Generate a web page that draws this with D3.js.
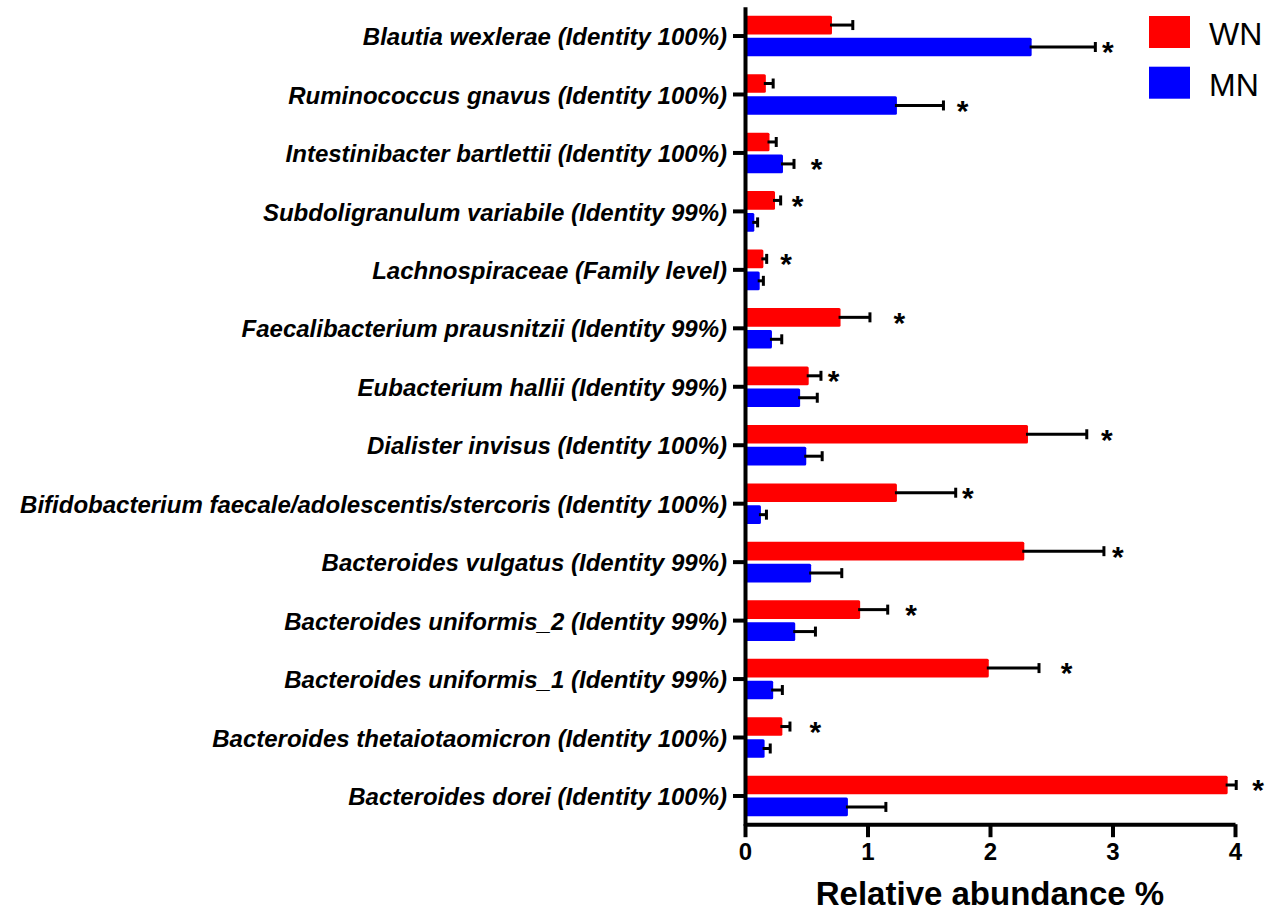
<!DOCTYPE html>
<html>
<head>
<meta charset="utf-8">
<script src="https://cdn.jsdelivr.net/npm/d3@7"></script>
<style>
  html, body { margin: 0; padding: 0; background: #fff; }
  svg { display: block; font-family: Arial, "Liberation Sans", sans-serif; }
</style>
</head>
<body>
<svg id="chart" width="1268" height="911"></svg>
<script>
// ---- data ----
const categories = [
  "Blautia wexlerae (Identity 100%)",
  "Ruminococcus gnavus (Identity 100%)",
  "Intestinibacter bartlettii (Identity 100%)",
  "Subdoligranulum variabile (Identity 99%)",
  "Lachnospiraceae (Family level)",
  "Faecalibacterium prausnitzii (Identity 99%)",
  "Eubacterium hallii (Identity 99%)",
  "Dialister invisus (Identity 100%)",
  "Bifidobacterium faecale/adolescentis/stercoris (Identity 100%)",
  "Bacteroides vulgatus (Identity 99%)",
  "Bacteroides uniformis_2 (Identity 99%)",
  "Bacteroides uniformis_1 (Identity 99%)",
  "Bacteroides thetaiotaomicron (Identity 100%)",
  "Bacteroides dorei (Identity 100%)"
];
const seriesNames = ["WN", "MN"];
const wnMean = [0.71, 0.17, 0.20, 0.245, 0.15, 0.78, 0.52, 2.31, 1.24, 2.28, 0.94, 1.99, 0.305, 3.94];
const wnErr  = [0.17, 0.06, 0.055, 0.046, 0.027, 0.24, 0.10, 0.48, 0.48, 0.65, 0.225, 0.41, 0.062, 0.07];
const mnMean = [2.34, 1.24, 0.31, 0.076, 0.12, 0.22, 0.45, 0.50, 0.13, 0.54, 0.41, 0.23, 0.16, 0.84];
const mnErr  = [0.52, 0.38, 0.09, 0.027, 0.03, 0.08, 0.14, 0.13, 0.045, 0.25, 0.165, 0.075, 0.046, 0.31];
// significance marker position (data units along x)
const starAt = [2.963, 1.777, 0.585, 0.430, 0.335, 1.260, 0.724, 2.953, 1.820, 3.043, 1.355, 2.626, 0.574, 4.188];
const xTicks = [0, 1, 2, 3, 4];
const xTitle = "Relative abundance %";

// ---- layout ----
const colors = { WN: "#ff0000", MN: "#0000ff" };
const svg = d3.select("#chart");

const x = d3.scaleLinear().domain([0, 4]).range([745, 1235]);
const y = d3.scaleBand().domain(categories).range([6.8, 825.2]).padding(0);
const sub = d3.scaleBand().domain(seriesNames)
  .range([y.bandwidth() / 2 - 20.3, y.bandwidth() / 2 + 20.3]).paddingInner(0.15);

const rows = categories.map((c, i) => ({
  cat: c,
  vals: [
    { s: "WN", m: wnMean[i], e: wnErr[i] },
    { s: "MN", m: mnMean[i], e: mnErr[i] }
  ],
  star: starAt[i]
}));

const g = svg.append("g");

const grp = g.selectAll("g.row").data(rows).join("g")
  .attr("class", "row")
  .attr("transform", d => `translate(0,${y(d.cat)})`);

// bars
grp.selectAll("rect.bar").data(d => d.vals).join("rect")
  .attr("class", "bar")
  .attr("x", x(0))
  .attr("y", d => sub(d.s))
  .attr("width", d => x(d.m) - x(0))
  .attr("height", sub.bandwidth())
  .attr("rx", 1.5)
  .attr("fill", d => colors[d.s]);

// error bars
grp.selectAll("line.err").data(d => d.vals).join("line")
  .attr("class", "err")
  .attr("x1", d => x(d.m) - 2)
  .attr("x2", d => x(d.m + d.e))
  .attr("y1", d => sub(d.s) + sub.bandwidth() / 2)
  .attr("y2", d => sub(d.s) + sub.bandwidth() / 2)
  .attr("stroke", "#000").attr("stroke-width", 3);
grp.selectAll("line.cap").data(d => d.vals).join("line")
  .attr("class", "cap")
  .attr("x1", d => x(d.m + d.e))
  .attr("x2", d => x(d.m + d.e))
  .attr("y1", d => sub(d.s) + sub.bandwidth() / 2 - 5)
  .attr("y2", d => sub(d.s) + sub.bandwidth() / 2 + 5)
  .attr("stroke", "#000").attr("stroke-width", 3);

// significance stars (next to the larger series)
grp.append("text")
  .attr("x", d => x(d.star))
  .attr("y", d => {
    const top = d.vals[0].m >= d.vals[1].m ? d.vals[0] : d.vals[1];
    return sub(top.s) + sub.bandwidth() / 2 - 2;
  })
  .attr("dy", "0.58em")
  .attr("text-anchor", "middle")
  .attr("font-size", 30)
  .attr("font-weight", "bold")
  .attr("fill", "#000")
  .text("*");

// y axis
const yAxis = g.append("g")
  .attr("transform", `translate(${x(0)},0)`)
  .call(d3.axisLeft(y).tickSize(12).tickSizeOuter(0).tickPadding(6));
yAxis.select(".domain").attr("stroke", "#000").attr("stroke-width", 4);
yAxis.selectAll(".tick line").attr("stroke", "#000").attr("stroke-width", 4);
yAxis.selectAll(".tick text")
  .attr("font-size", 24)
  .attr("font-weight", "bold")
  .attr("font-style", "italic")
  .attr("font-family", "Arial, 'Liberation Sans', sans-serif")
  .attr("fill", "#000")
  .attr("dy", "0.38em");

// x axis
const xAxis = g.append("g")
  .attr("transform", `translate(0,${y.range()[1] - 1})`)
  .call(d3.axisBottom(x).tickValues(xTicks).tickFormat(d3.format("d"))
    .tickSize(13).tickSizeOuter(0).tickPadding(6));
xAxis.select(".domain").attr("stroke", "#000").attr("stroke-width", 4);
xAxis.selectAll(".tick line").attr("stroke", "#000").attr("stroke-width", 4);
xAxis.selectAll(".tick text")
  .attr("font-size", 24)
  .attr("font-weight", "bold")
  .attr("font-family", "Arial, 'Liberation Sans', sans-serif")
  .attr("fill", "#000");

// x title
g.append("text")
  .attr("x", (x.range()[0] + x.range()[1]) / 2)
  .attr("y", 905)
  .attr("text-anchor", "middle")
  .attr("font-size", 33)
  .attr("font-weight", "bold")
  .attr("fill", "#000")
  .text(xTitle);

// legend
const leg = g.selectAll("g.leg").data(seriesNames).join("g")
  .attr("class", "leg")
  .attr("transform", (d, i) => `translate(1149,${16 + i * 50.7})`);
leg.append("rect").attr("width", 41).attr("height", 32).attr("fill", d => colors[d]);
leg.append("text").attr("x", 60).attr("y", 29)
  .attr("font-size", 32).attr("fill", "#000").text(d => d);
</script>
</body>
</html>
